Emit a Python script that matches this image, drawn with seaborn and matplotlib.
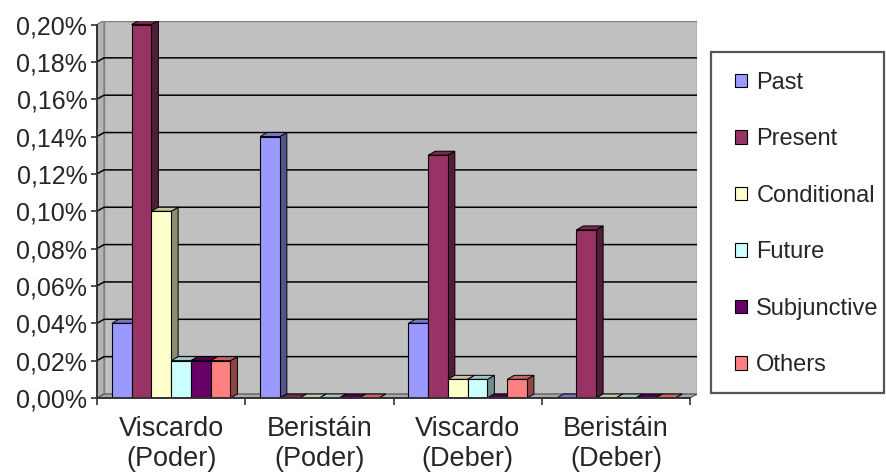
import numpy as np
import pandas as pd
import seaborn as sns
import matplotlib.pyplot as plt
import matplotlib.colors as mcolors
from matplotlib.patches import Polygon, Patch, Rectangle
from matplotlib.ticker import FuncFormatter, FixedLocator

# Usage of modal verbs by tense (% of words)
groups = ["Viscardo\n(Poder)", "Beristáin\n(Poder)", "Viscardo\n(Deber)", "Beristáin\n(Deber)"]
tenses = ["Past", "Present", "Conditional", "Future", "Subjunctive", "Others"]
past = [0.04, 0.14, 0.04, 0.00]
present = [0.20, 0.00, 0.13, 0.09]
conditional = [0.10, 0.00, 0.01, 0.00]
future = [0.02, 0.00, 0.01, 0.00]
subjunctive = [0.02, 0.00, 0.00, 0.00]
others = [0.02, 0.00, 0.01, 0.00]
colors = ["#9999FF", "#993366", "#FFFFCC", "#CCFFFF", "#660066", "#FF8080"]
y_ticks = [0.00, 0.02, 0.04, 0.06, 0.08, 0.10, 0.12, 0.14, 0.16, 0.18, 0.20]

rows = []
for tense, vals in zip(tenses, [past, present, conditional, future, subjunctive, others]):
    for g, v in zip(groups, vals):
        rows.append({"group": g, "tense": tense, "value": v})
df = pd.DataFrame(rows)

sns.set_style("white")
plt.rcParams["font.family"] = ["Liberation Sans", "DejaVu Sans"]
TXT = "#262626"

W, H = 886, 475
fig = plt.figure(figsize=(W / 100, H / 100), dpi=100)
ax_l, ax_r, ax_t, ax_b = 97, 697, 20.5, 398
ax = fig.add_axes([ax_l / W, 1 - ax_b / H, (ax_r - ax_l) / W, (ax_b - ax_t) / H])

# depth of the pseudo-3D walls, in pixels
dx_px, dy_px = 7.0, 4.0
ppu_x = (ax_r - ax_l - dx_px) / 4.0
ppu_y = (ax_b - ax_t - dy_px) / y_ticks[-1]
dx, dy = dx_px / ppu_x, dy_px / ppu_y
ymax = y_ticks[-1]

sns.barplot(data=df, x="group", y="value", hue="tense", order=groups,
            hue_order=tenses, palette=colors, saturation=1, width=0.8,
            edgecolor="black", linewidth=0.8, ax=ax, legend=False)
bars = sorted([p for p in ax.patches if isinstance(p, Rectangle)], key=lambda p: p.get_x())

ax.set_xlim(-0.5, 3.5 + dx)
ax.set_ylim(0, ymax + dy)
ax.patch.set_visible(False)

# walls and floor
ax.add_patch(Rectangle((-0.5 + dx, dy), 4.0, ymax, facecolor="#C0C0C0",
                       edgecolor="#808080", lw=1.0, zorder=0))
ax.add_patch(Polygon([(-0.5, 0), (-0.5 + dx, dy), (-0.5 + dx, ymax + dy), (-0.5, ymax)],
                     closed=True, facecolor="#B4B4B4", edgecolor="#808080", lw=1.0, zorder=0.2))
ax.add_patch(Polygon([(-0.5, 0), (3.5, 0), (3.5 + dx, dy), (-0.5 + dx, dy)],
                     closed=True, facecolor="#A8A8A8", edgecolor="#505050", lw=0.8, zorder=0.3))
for v in y_ticks[1:-1]:
    ax.plot([-0.5, -0.5 + dx, 3.5 + dx], [v, v + dy, v + dy], color="black", lw=1.1,
            zorder=0.5, solid_capstyle="butt")


def shade(c, f):
    r, g, b = mcolors.to_rgb(c)
    return (r * f, g * f, b * f)


for i, bar in enumerate(bars):
    x0, w, h = bar.get_x(), bar.get_width(), bar.get_height()
    fc = bar.get_facecolor()
    base = 3 + 2 * i
    bar.set_zorder(base + 1)
    ax.add_patch(Polygon([(x0 + w, 0), (x0 + w + dx, dy), (x0 + w + dx, h + dy), (x0 + w, h)],
                         closed=True, facecolor=shade(fc, 0.55), edgecolor="black",
                         lw=0.7, zorder=base))
    ax.add_patch(Polygon([(x0, h), (x0 + dx, h + dy), (x0 + w + dx, h + dy), (x0 + w, h)],
                         closed=True, facecolor=shade(fc, 0.78), edgecolor="black",
                         lw=0.7, zorder=base))

# axes lines and ticks
for s in ["top", "right"]:
    ax.spines[s].set_visible(False)
ax.spines["left"].set_bounds(0, ymax)
ax.spines["bottom"].set_bounds(-0.5, 3.5)
for s in ["left", "bottom"]:
    ax.spines[s].set_color("#333333")
    ax.spines[s].set_linewidth(1.4)
    ax.spines[s].set_zorder(50)

ax.yaxis.set_major_locator(FixedLocator(y_ticks))
ax.yaxis.set_major_formatter(FuncFormatter(lambda v, _: f"{v:.2f}%".replace(".", ",")))
ax.tick_params(axis="y", direction="out", length=4, width=1.2, color="#333333",
               labelsize=18, labelcolor=TXT, pad=3, left=True)
ax.set_xticks(range(len(groups)))
ax.set_xticklabels(groups, fontsize=19.5, color=TXT, linespacing=1.22)
ax.set_xticks([-0.5, 0.5, 1.5, 2.5, 3.5], minor=True)
ax.tick_params(axis="x", which="major", length=0, pad=13)
ax.tick_params(axis="x", which="minor", direction="out", length=5, width=1.2,
               color="#333333", bottom=True)
ax.set_xlabel("")
ax.set_ylabel("")

# legend box
fig.patches.append(Rectangle((711 / W, 1 - 393 / H), 173 / W, 341 / H,
                             transform=fig.transFigure, fill=False,
                             edgecolor="#555555", lw=1.6))
handles = [Patch(facecolor=c, edgecolor="black", lw=0.8) for c in colors]
leg = fig.legend(handles, tenses, loc="upper left", bbox_to_anchor=(735 / W, 1 - 72 / H),
                 frameon=False, fontsize=17, labelspacing=1.46, handlelength=0.5,
                 handleheight=0.5, handletextpad=0.4, borderpad=0, borderaxespad=0)
for t in leg.get_texts():
    t.set_color(TXT)

fig.savefig("out.png", dpi=100, facecolor="white")
